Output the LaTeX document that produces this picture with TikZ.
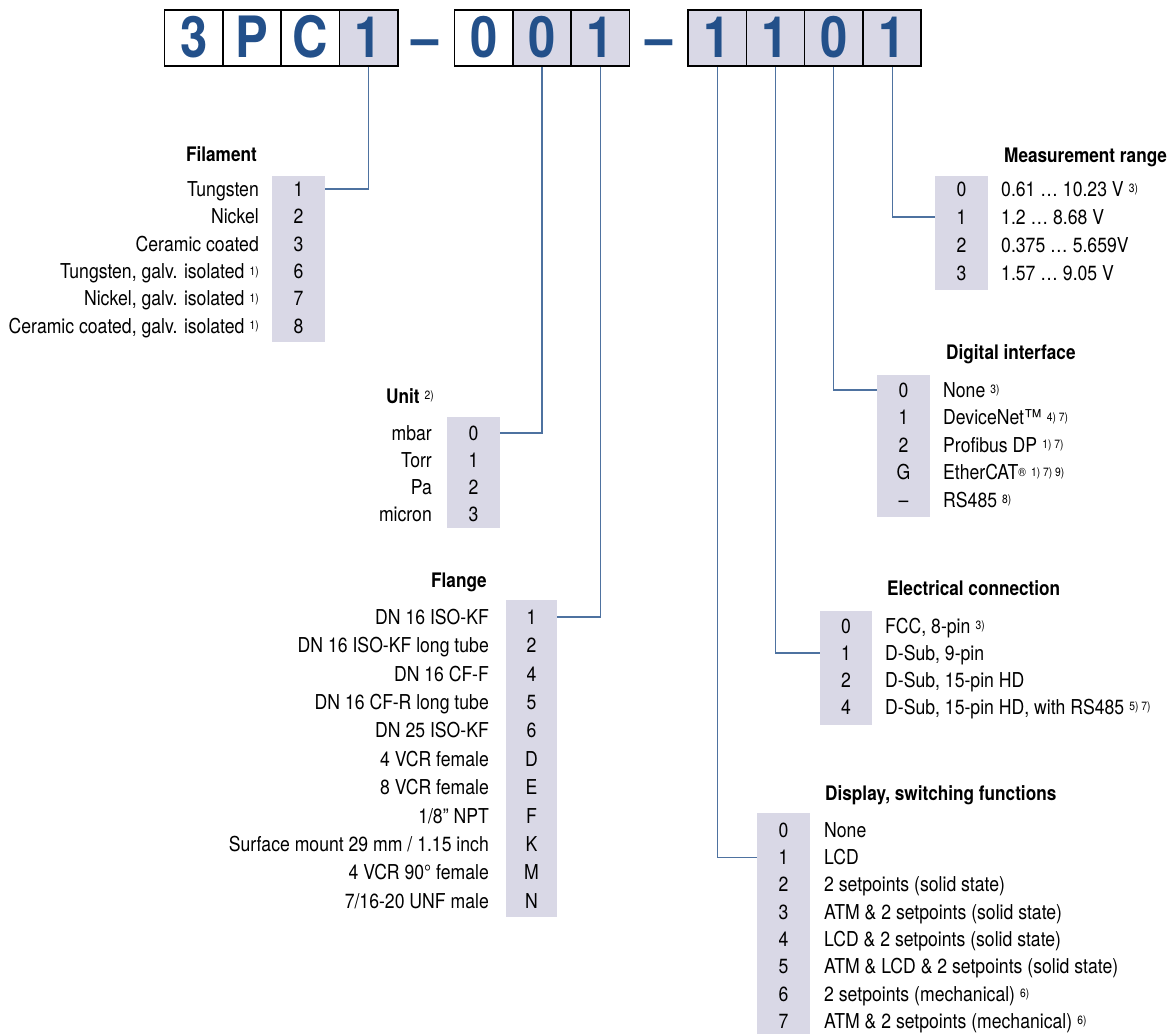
\documentclass[tikz,border=0pt]{standalone}
\usepackage{fontspec}
\setmainfont{TeX Gyre Heros}[FakeStretch=0.86]
\definecolor{cfill}{HTML}{D9D8E6}
\definecolor{dblue}{HTML}{23508A}
\definecolor{lblue}{HTML}{4E72A0}
\newcommand{\fnote}[1]{\hspace{0.25em}\raisebox{3.5pt}{\mdseries\fontsize{12}{12}\selectfont #1}}
\newcommand{\labfont}{\fontsize{20.5}{24}\selectfont}
\newcommand{\ttlfont}{\fontsize{20}{24}\selectfont\bfseries}
\newcommand{\digfont}{\fontsize{57}{57}\selectfont\bfseries}
\begin{document}
\begin{tikzpicture}[x=1pt,y=-1pt,
  box/.style={draw=black,line width=1.6pt,minimum width=58.3pt,minimum height=56pt,inner sep=0pt,text=dblue,font=\digfont,text height=39.5pt,text depth=0pt},
  shd/.style={fill=cfill},
  hyph/.style={inner sep=0pt,text=dblue,font=\digfont,text height=39.5pt,text depth=0pt},
  num/.style={inner sep=0pt,minimum width=53pt,text height=14.7pt,text depth=0pt,font=\labfont,anchor=center},
  labl/.style={inner sep=0pt,text height=14.7pt,text depth=0pt,font=\labfont,anchor=east},
  labr/.style={inner sep=0pt,text height=14.7pt,text depth=0pt,font=\labfont,anchor=west},
  ttl/.style={inner sep=0pt,text height=14.4pt,text depth=0pt,font=\ttlfont},
  col/.style={fill=cfill},
  conn/.style={draw=lblue,line width=1.1pt}]
\useasboundingbox (0,0) rectangle (1174,1034);
% ---------- code boxes ----------
\node[box] (b1) at (193.65,38) {3};
\node[box] (b2) at (251.95,38) {P};
\node[box] (b3) at (310.25,38) {C};
\node[box,shd] (b4) at (368.55,38) {1};
\node[hyph] (h1) at (425.5,38) {–};
\node[box] (b5) at (483.65,38) {0};
\node[box,shd] (b6) at (541.95,38) {0};
\node[box,shd] (b7) at (600.25,38) {1};
\node[hyph] (h2) at (658.7,38) {–};
\node[box,shd] (b8) at (717.15,38) {1};
\node[box,shd] (b9) at (775.45,38) {1};
\node[box,shd] (b10) at (833.75,38) {0};
\node[box,shd] (b11) at (892.05,38) {1};
% ---------- Filament ----------
\fill[col] (272,176) rectangle (325,342);
\node[ttl,anchor=east] (filT) at (257,154) {Filament};
\foreach \cnum/\ctext [count=\i] in {1/{Tungsten},2/{Nickel},3/{Ceramic coated},6/{Tungsten, galv. isolated\fnote{1)}},7/{Nickel, galv. isolated\fnote{1)}},8/{Ceramic coated, galv. isolated\fnote{1)}}}{
  \pgfmathsetmacro\yy{189+(\i-1)*27.4}
  \node[num] (fil\i) at (298.5,\yy) {\cnum};
  \node[labl] (filt\i) at (259,\yy) {\ctext};
}
% ---------- Unit ----------
\fill[col] (447,417) rectangle (500,528);
\node[ttl,anchor=east] (unT) at (434,396) {Unit\fnote{2)}};
\foreach \cnum/\ctext [count=\i] in {0/{mbar},1/{Torr},2/{Pa},3/{micron}}{
  \pgfmathsetmacro\yy{433+(\i-1)*27}
  \node[num] (un\i) at (473.5,\yy) {\cnum};
  \node[labl] (unt\i) at (432,\yy) {\ctext};
}
% ---------- Flange ----------
\fill[col] (506,600) rectangle (557,917);
\node[ttl,anchor=east] (flT) at (487,580) {Flange};
\foreach \cnum/\ctext [count=\i] in {1/{DN 16 ISO-KF},2/{DN 16 ISO-KF long tube},4/{DN 16 CF-F},5/{DN 16 CF-R long tube},6/{DN 25 ISO-KF},D/{4 VCR female},E/{8 VCR female},F/{1/8" NPT},K/{Surface mount 29 mm / 1.15 inch},M/{4 VCR 90° female},N/{7/16-20 UNF male}}{
  \pgfmathsetmacro\yy{617+(\i-1)*28.4}
  \node[num,minimum width=51pt] (fl\i) at (531.5,\yy) {\cnum};
  \node[labl] (flt\i) at (489,\yy) {\ctext};
}
% ---------- Measurement range ----------
\fill[col] (935,176) rectangle (988,290);
\node[ttl,anchor=west] (msT) at (1004,155) {Measurement range};
\foreach \cnum/\ctext [count=\i] in {0/{0.61 … 10.23 V\fnote{3)}},1/{1.2 … 8.68 V},2/{0.375 … 5.659V},3/{1.57 … 9.05 V}}{
  \pgfmathsetmacro\yy{189+(\i-1)*28}
  \node[num] (ms\i) at (961.5,\yy) {\cnum};
  \node[labr] (mst\i) at (1001,\yy) {\ctext};
}
% ---------- Digital interface ----------
\fill[col] (877,375) rectangle (930,517);
\node[ttl,anchor=west] (dgT) at (946,352) {Digital interface};
\foreach \cnum/\ctext [count=\i] in {0/{None\fnote{3)}},1/{DeviceNet™\fnote{4) 7)}},2/{Profibus DP\fnote{1) 7)}},G/{EtherCAT\raisebox{3.5pt}{\fontsize{12}{12}\selectfont ®}\fnote{1) 7) 9)}},–/{RS485\fnote{8)}}}{
  \pgfmathsetmacro\yy{390+(\i-1)*27.5}
  \node[num] (dg\i) at (903.5,\yy) {\cnum};
  \node[labr] (dgt\i) at (943,\yy) {\ctext};
}
% ---------- Electrical connection ----------
\fill[col] (820,611) rectangle (872,725);
\node[ttl,anchor=west] (elT) at (887,588) {Electrical connection};
\foreach \cnum/\ctext [count=\i] in {0/{FCC, 8-pin\fnote{3)}},1/{D-Sub, 9-pin},2/{D-Sub, 15-pin HD},4/{D-Sub, 15-pin HD, with RS485\fnote{5) 7)}}}{
  \pgfmathsetmacro\yy{626+(\i-1)*27}
  \node[num,minimum width=52pt] (el\i) at (846,\yy) {\cnum};
  \node[labr] (elt\i) at (885,\yy) {\ctext};
}
% ---------- Display, switching functions ----------
\fill[col] (757,813) rectangle (810,1034);
\node[ttl,anchor=west] (dsT) at (825,793) {Display, switching functions};
\foreach \cnum/\ctext [count=\i] in {0/{None},1/{LCD},2/{2 setpoints (solid state)},3/{ATM \& 2 setpoints (solid state)},4/{LCD \& 2 setpoints (solid state)},5/{ATM \& LCD \& 2 setpoints (solid state)},6/{2 setpoints (mechanical)\fnote{6)}},7/{ATM \& 2 setpoints (mechanical)\fnote{6)}}}{
  \pgfmathsetmacro\yy{830+(\i-1)*27.3}
  \node[num] (ds\i) at (783.5,\yy) {\cnum};
  \node[labr] (dst\i) at (824,\yy) {\ctext};
}
% ---------- connectors ----------
\draw[conn] (b4.south) |- (fil1.east);
\draw[conn] (b6.south) |- (un1.east);
\draw[conn] (b7.south) |- (fl1.east);
\draw[conn] (b8.south) |- (ds2.west);
\draw[conn] (b9.south) |- (el2.west);
\draw[conn] (b10.south) |- (dg1.west);
\draw[conn] (b11.south) |- (ms2.west);
\end{tikzpicture}
\end{document}
